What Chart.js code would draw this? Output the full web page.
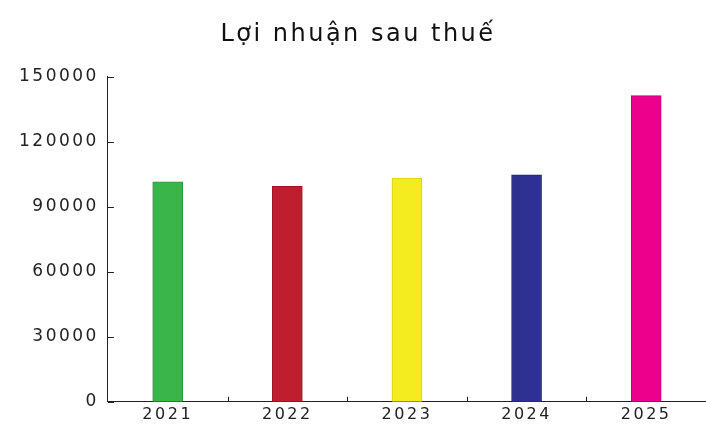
<!DOCTYPE html>
<html>
<head>
<meta charset="utf-8">
<script src="https://cdn.jsdelivr.net/npm/chart.js@4"></script>
<style>
  html, body { margin: 0; padding: 0; background: #fff; }
  #wrap { width: 706px; height: 427px; }
</style>
</head>
<body>
<div id="wrap"><canvas id="profitChart"></canvas></div>
<script>
// dữ liệu
var years = ['2021', '2022', '2023', '2024', '2025'];
var profit = [101500, 99400, 103200, 104800, 141300];
var barColors = ['#39b54a', '#be1e2d', '#f4ec1e', '#2e3192', '#ec008c'];
var borderColors = ['#2f9a3e', '#9e1626', '#d8cf12', '#232670', '#b8006c'];
var yTicks = [0, 30000, 60000, 90000, 120000, 150000];

// chữ giãn rộng như ảnh gốc
function spacing(chart) { chart.ctx.letterSpacing = '2.5px'; }
var wideText = {
  id: 'wideText',
  beforeLayout: spacing,
  beforeDraw: spacing
};

// vạch chia hướng vào trong
var innerTicks = {
  id: 'innerTicks',
  afterDraw: function(chart) {
    var ctx = chart.ctx, x = chart.scales.x, y = chart.scales.y;
    ctx.save();
    ctx.strokeStyle = '#222';
    ctx.lineWidth = 1;
    ctx.beginPath();
    yTicks.forEach(function(v) {
      var py = Math.round(y.getPixelForValue(v)) + 0.5;
      ctx.moveTo(x.left, py);
      ctx.lineTo(x.left + 6, py);
    });
    for (var i = 1; i < years.length; i++) {
      var px = Math.round((x.getPixelForValue(i - 1) + x.getPixelForValue(i)) / 2) + 0.5;
      ctx.moveTo(px, y.bottom);
      ctx.lineTo(px, y.bottom - 5);
    }
    ctx.stroke();
    ctx.restore();
  }
};

new Chart(document.getElementById('profitChart'), {
  type: 'bar',
  data: {
    labels: years,
    datasets: [{
      label: 'Lợi nhuận sau thuế',
      data: profit,
      backgroundColor: barColors,
      borderColor: borderColors,
      borderWidth: 1,
      barThickness: 30
    }]
  },
  options: {
    responsive: true,
    maintainAspectRatio: false,
    animation: false,
    layout: { padding: { left: 10, right: 0, top: 8, bottom: 0 } },
    plugins: {
      legend: { display: false },
      tooltip: { enabled: false },
      title: {
        display: true,
        text: 'Lợi nhuận sau thuế',
        color: '#111',
        font: { family: 'DejaVu Sans', size: 24, weight: 'normal' },
        padding: { top: 12, bottom: 28 }
      }
    },
    scales: {
      x: {
        grid: { display: false, drawTicks: false },
        border: { display: true, color: '#222', width: 1 },
        ticks: { color: '#222', padding: 3, font: { family: 'DejaVu Sans', size: 16 } }
      },
      y: {
        min: 0,
        max: 150000,
        afterBuildTicks: function(axis) {
          axis.ticks = yTicks.map(function(v) { return { value: v }; });
        },
        grid: { display: false, drawTicks: false },
        border: { display: true, color: '#222', width: 1 },
        ticks: {
          color: '#222',
          padding: 9,
          font: { family: 'DejaVu Sans', size: 17 },
          callback: function(v) { return String(v); }
        }
      }
    }
  },
  plugins: [wideText, innerTicks]
});
</script>
</body>
</html>
